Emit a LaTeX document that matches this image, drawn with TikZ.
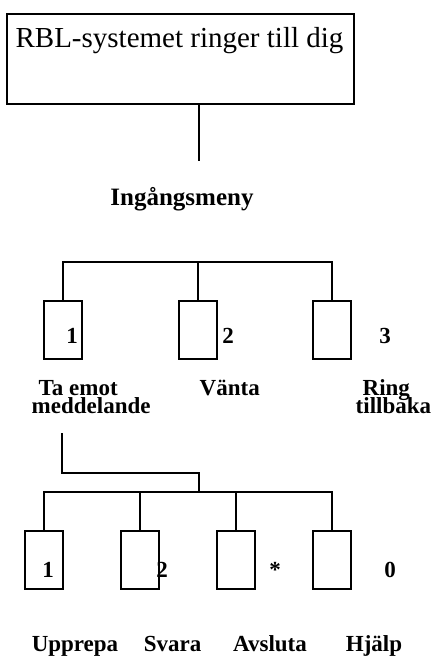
\documentclass[tikz,border=0pt]{standalone}
\usepackage{fontspec}
\setmainfont{Liberation Serif}
\usetikzlibrary{positioning}
\newcommand{\tightlines}{\lineskiplimit=-100pt\relax}

\begin{document}
\begin{tikzpicture}[x=1pt, y=-1pt, line width=1.4pt,
  menubox/.style={draw, minimum width=38pt, minimum height=58pt, inner sep=0pt},
  keynum/.style={font=\bfseries\fontsize{23}{23}\selectfont, anchor=base, inner sep=0pt},
  choice/.style={font=\bfseries\fontsize{23}{18}\selectfont\tightlines, anchor=base west, align=left, inner sep=0pt}]
\useasboundingbox (0,0) rectangle (438,659);

% --- Incoming call ---
\node[draw, line width=2pt, minimum width=347pt, minimum height=90pt, anchor=north west] (callbox) at (6,13) {};
\node[font=\fontsize{29}{29}\selectfont, anchor=base, inner sep=0pt] (calltext) at (179.5,47) {RBL-systemet ringer till dig};
\coordinate (stemend) at (199,161);
\draw (stemend |- callbox.south) -- (stemend);
\node[font=\bfseries\fontsize{25}{25}\selectfont, anchor=base, inner sep=0pt] (entry) at (182,205) {Ingångsmeny};

% --- Entry menu ---
\node[menubox] (take) at (63,330) {};
\node[menubox] (wait) at (198,330) {};
\node[menubox] (back) at (332,330) {};
\coordinate (bar1) at (0,262);
\draw (take.north) |- (back.north |- bar1) -- (back.north);
\draw (wait.north) -- (wait.north |- bar1);
\node[keynum] (k1) at (72,343) {1};
\node[keynum] (k2) at (228,343) {2};
\node[keynum] (k3) at (385,343) {3};
\node[choice] (takelab) at (31,413) {\hspace{7pt}Ta emot\\meddelande};
\node[choice] (waitlab) at (199,395) {Vänta};
\node[choice] (backlab) at (355,413) {\hspace{7pt}Ring\\tillbaka};

% --- Message menu ---
\coordinate (subtop) at (62,433);
\coordinate (subjoin) at (199,492);
\draw (subtop) -- ++(0,40) -| (subjoin);
\node[menubox] (rep) at (44,560) {};
\node[menubox] (ans) at (140,560) {};
\node[menubox] (quit) at (236,560) {};
\node[menubox] (help) at (332,560) {};
\draw (rep.north) |- (help.north |- subjoin) -- (help.north);
\draw (ans.north) -- (ans.north |- subjoin);
\draw (quit.north) -- (quit.north |- subjoin);
\node[keynum] (s1) at (48,577) {1};
\node[keynum] (s2) at (162,577) {2};
\node[keynum] (s3) at (275,577) {*};
\node[keynum] (s4) at (390,577) {0};
\node[choice, anchor=base] (replab) at (75,651) {Upprepa};
\node[choice, anchor=base] (anslab) at (172.5,651) {Svara};
\node[choice, anchor=base] (quitlab) at (270,651) {Avsluta};
\node[choice, anchor=base] (helplab) at (374,651) {Hjälp};
\end{tikzpicture}
\end{document}
